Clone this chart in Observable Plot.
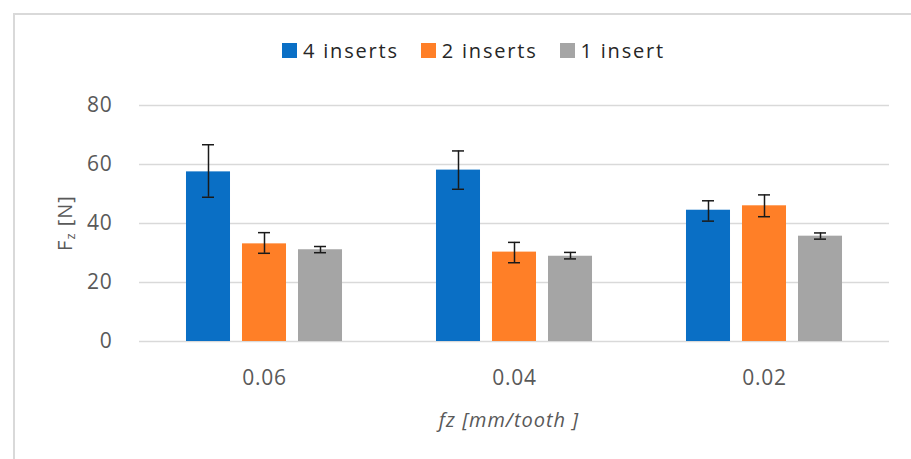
<!DOCTYPE html>
<html>
<head>
<meta charset="utf-8">
<script src="https://cdn.jsdelivr.net/npm/d3@7"></script>
<script src="https://cdn.jsdelivr.net/npm/@observablehq/plot@0.6"></script>
<style>
  html, body { margin: 0; padding: 0; background: #fff; }
  #wrap { position: relative; width: 911px; height: 459px; overflow: hidden; font-family: "Open Sans", sans-serif; color: #595959; }
  #frame { position: absolute; left: 13px; top: 13px; width: 920px; height: 460px; border-top: 2px solid #d9d9d9; border-left: 2px solid #d9d9d9; }
  #legend { position: absolute; left: 282px; top: 37px; display: flex; align-items: center; font-size: 20px; letter-spacing: 1.8px; color: #262626; white-space: nowrap; }
  #legend .item { display: flex; align-items: center; margin-right: 22px; }
  #legend .sw { width: 15px; height: 15px; margin-right: 6px; }
  #chart { position: absolute; left: 0; top: 70px; }
  #ylab { position: absolute; left: 65px; top: 223px; transform: translate(-50%, -50%) rotate(-90deg); font-size: 20px; letter-spacing: 1px; white-space: nowrap; }
  #ylab sub { font-size: 13px; vertical-align: -3px; }
  #xlab { position: absolute; left: 509px; top: 419px; transform: translate(-50%, -50%); font-size: 20px; font-style: italic; letter-spacing: 1px; white-space: nowrap; }
</style>
</head>
<body>
<div id="wrap">
  <div id="frame"></div>
  <div id="legend"></div>
  <div id="chart"></div>
  <div id="ylab">F<sub>z</sub> [N]</div>
  <div id="xlab">fz [mm/tooth ]</div>
</div>
<script>
const groups = ["0.06", "0.04", "0.02"];
const series = ["4 inserts", "2 inserts", "1 insert"];
const colors = ["#0A6FC5", "#FF7F27", "#A5A5A5"];

const mean4 = [57.5, 58.1, 44.5];
const mean2 = [33.1, 30.3, 46.0];
const mean1 = [31.1, 28.9, 35.7];

const hi4 = [66.7, 64.6, 47.7];
const lo4 = [48.9, 51.6, 40.8];
const hi2 = [36.9, 33.6, 49.7];
const lo2 = [29.9, 26.7, 42.3];
const hi1 = [32.2, 30.2, 36.8];
const lo1 = [30.1, 28.0, 34.7];

const yTicks = [0, 20, 40, 60, 80];

const means = [mean4, mean2, mean1];
const his = [hi4, hi2, hi1];
const los = [lo4, lo2, lo1];

const data = [];
groups.forEach((g, gi) => {
  series.forEach((s, si) => {
    data.push({group: g, series: s, value: means[si][gi], hi: his[si][gi], lo: los[si][gi]});
  });
});

// legend
const legend = document.getElementById("legend");
series.forEach((s, i) => {
  const item = document.createElement("div");
  item.className = "item";
  item.innerHTML = `<div class="sw" style="background:${colors[i]}"></div><span>${s}</span>`;
  legend.appendChild(item);
});

const chart = Plot.plot({
  width: 911,
  height: 330,
  marginLeft: 139,
  marginRight: 22,
  marginTop: 35,
  marginBottom: 59,
  style: {fontFamily: "Open Sans, sans-serif", fontSize: "21px", color: "#595959", background: "transparent", letterSpacing: "0.8px"},
  fx: {domain: groups, padding: 0, tickSize: 0, tickPadding: 29, label: null},
  x: {domain: series, axis: null, paddingInner: 0.214, paddingOuter: 0.839, round: false},
  y: {domain: [0, 80], ticks: yTicks, tickSize: 0, tickPadding: 27, label: null},
  color: {domain: series, range: colors},
  marks: [
    Plot.ruleY(yTicks, {y: d => d, stroke: "#d9d9d9", strokeWidth: 1.5}),
    Plot.barY(data, {fx: "group", x: "series", y: "value", fill: "series"}),
    Plot.ruleX(data, {fx: "group", x: "series", y1: "lo", y2: "hi", stroke: "#1a1a1a", strokeWidth: 1.5}),
    Plot.tickY(data, {fx: "group", x: "series", y: "hi", stroke: "#1a1a1a", strokeWidth: 1.5, insetLeft: 16, insetRight: 16}),
    Plot.tickY(data, {fx: "group", x: "series", y: "lo", stroke: "#1a1a1a", strokeWidth: 1.5, insetLeft: 16, insetRight: 16})
  ]
});
document.getElementById("chart").appendChild(chart);
</script>
</body>
</html>
